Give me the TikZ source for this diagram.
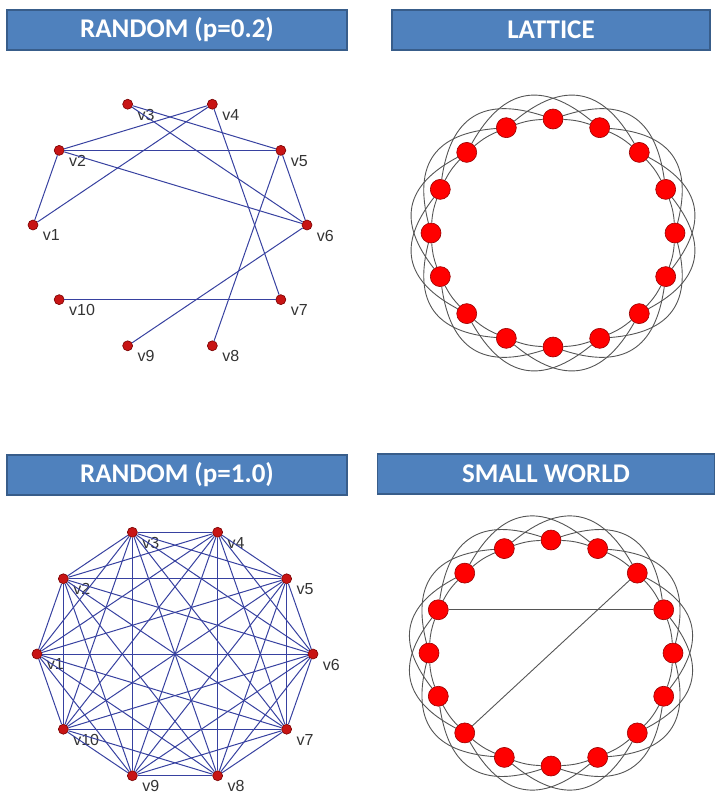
\documentclass[tikz,border=0pt]{standalone}
\usepackage{fontspec}
\usepackage{tikz}
\usetikzlibrary{calc}
\newfontfamily\hdrfont{Carlito}
\newfontfamily\labfont{Liberation Sans}
\definecolor{hdrblue}{RGB}{79,129,189}
\definecolor{hdredge}{RGB}{56,93,138}
\definecolor{edgeblue}{RGB}{55,65,160}
\definecolor{dotred}{RGB}{200,20,20}
\definecolor{dotedge}{RGB}{120,0,0}
\definecolor{ringgray}{RGB}{85,85,85}

\begin{document}
\begin{tikzpicture}[x=1pt, y=-1pt,
  hdr/.style={rectangle, fill=hdrblue, draw=hdredge, line width=1.2pt, minimum height=40pt, inner sep=0pt,
    text=white, font=\hdrfont\bfseries\fontsize{27}{27}\selectfont},
  vdot/.style={circle, fill=dotred, draw=dotedge, line width=0.6pt, minimum size=10pt, inner sep=0pt},
  lab/.style={font=\labfont\fontsize{16}{16}\selectfont, text=black!80, inner sep=0pt, xshift=6pt, yshift=-1pt},
  bigdot/.style={circle, fill=red, draw=red!60!black, line width=0.6pt, minimum size=20pt, inner sep=0pt},
  link/.style={edgeblue, line width=1pt},
  ring/.style={ringgray, line width=0.9pt}]
  \useasboundingbox (0,0) rectangle (717,793);
  % headers
  \node[hdr, minimum width=340pt] (h1) at (177,30) {RANDOM (p=0.2)};
  \node[hdr, minimum width=318pt] (h2) at (551,30) {LATTICE};
  \node[hdr, minimum width=340pt] (h3) at (177,475) {RANDOM (p=1.0)};
  \node[hdr, minimum width=337pt] (h4) at (546,474) {SMALL WORLD};
  % random graph, p=0.2
  \foreach \k in {1,...,10} {
    \pgfmathsetmacro\ang{216-36*\k}
    \node[vdot, label={[lab]below right:v\k}] (a\k) at ({170+137*cos(\ang)},{225-127*sin(\ang)}) {};
  }
  \foreach \i/\j in {1/2,1/4,2/4,2/5,2/6,3/5,3/6,4/7,5/6,5/8,6/9,10/7}
    \draw[link] (a\i) -- (a\j);
  % random graph, p=1.0 (complete)
  \foreach \k in {1,...,10} {
    \pgfmathsetmacro\ang{216-36*\k}
    \node[vdot, label={[lab]below right:v\k}] (b\k) at ({175+138*cos(\ang)},{654-128*sin(\ang)}) {};
  }
  \foreach \i in {1,...,9} {
    \pgfmathtruncatemacro\n{\i+1}
    \foreach \j in {\n,...,10}
      \draw[link] (b\i) -- (b\j);
  }
  % ring lattice
  \foreach \k in {0,...,15}
    \node[bigdot] (L\k) at ({553+122*cos(22.5*\k)},{233-114*sin(22.5*\k)}) {};
  \foreach \k in {0,...,15} {
    \pgfmathtruncatemacro\p{mod(\k+1,16)}
    \pgfmathtruncatemacro\q{mod(\k+3,16)}
    \draw[ring] (L\k) to[bend right=8] (L\p);
    \draw[ring] (L\k) to[bend right=50, looseness=1.35] (L\q);
  }
  % small world: lattice plus two shortcuts
  \foreach \k in {0,...,15}
    \node[bigdot] (S\k) at ({551+122*cos(22.5*\k)},{653-113*sin(22.5*\k)}) {};
  \foreach \k in {0,...,15} {
    \pgfmathtruncatemacro\p{mod(\k+1,16)}
    \pgfmathtruncatemacro\q{mod(\k+3,16)}
    \draw[ring] (S\k) to[bend right=8] (S\p);
    \draw[ring] (S\k) to[bend right=50, looseness=1.35] (S\q);
  }
  \draw[ring] (S7) -- (S1);
  \draw[ring] (S10) -- (S2);
\end{tikzpicture}
\end{document}
